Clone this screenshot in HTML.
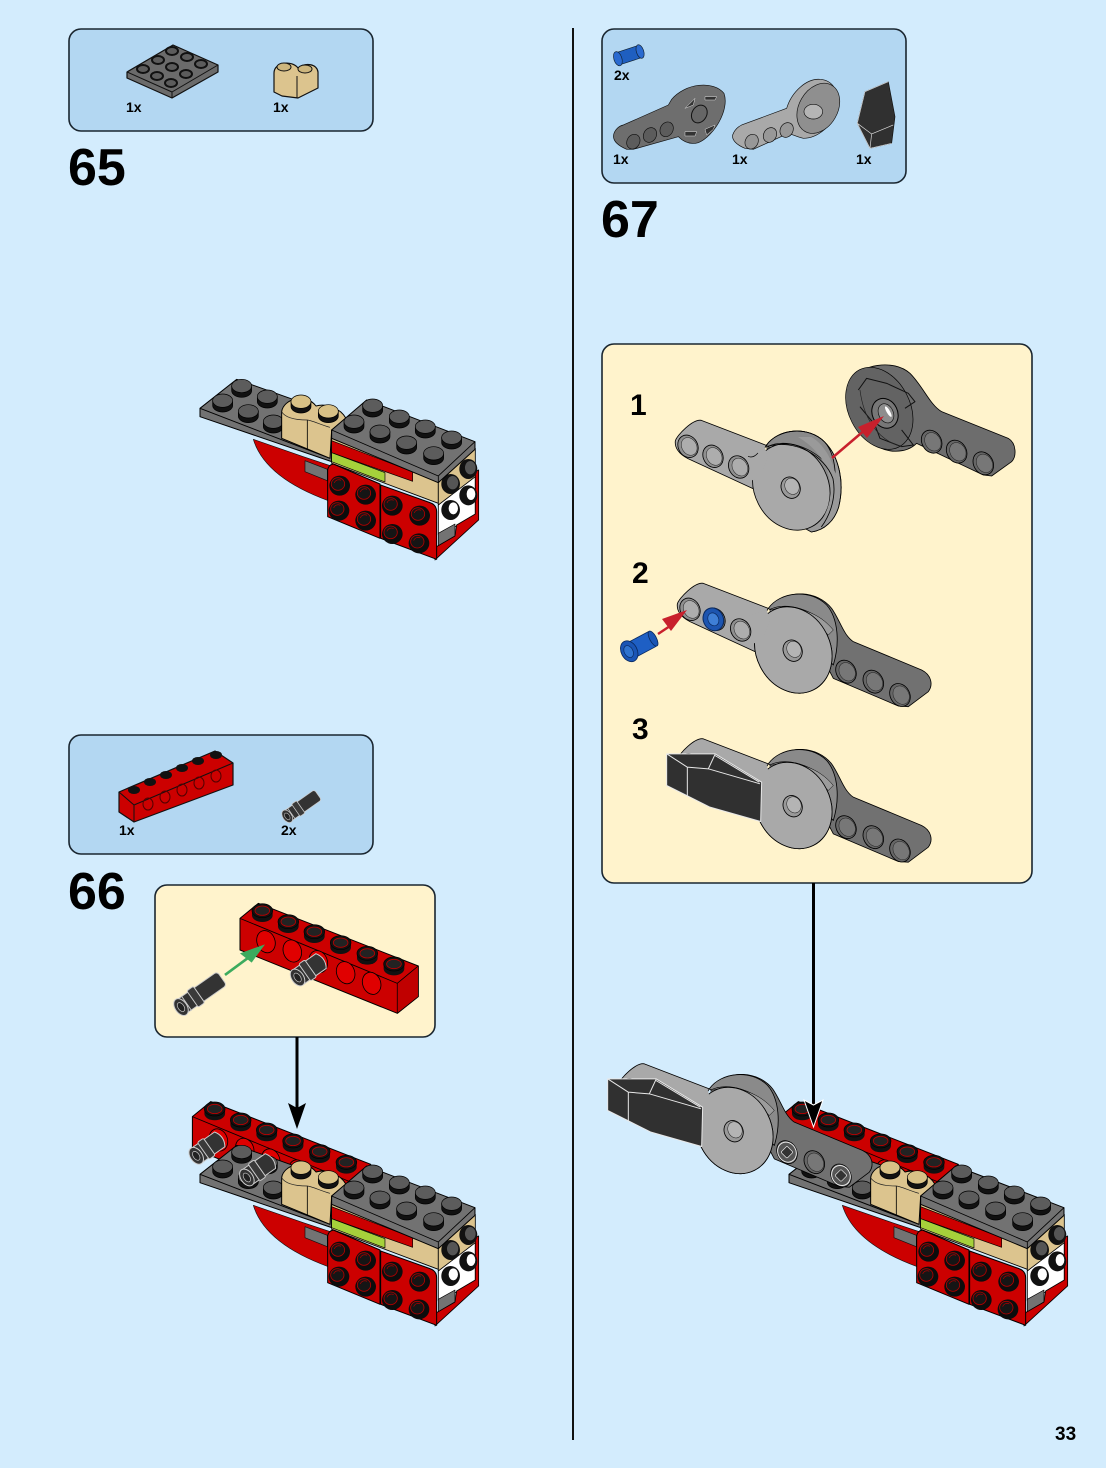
<!DOCTYPE html>
<html>
<head>
<meta charset="utf-8">
<style>
html,body{margin:0;padding:0;background:#d3ecfd;}
svg{display:block;}
text{font-family:"Liberation Sans",sans-serif;font-weight:bold;fill:#000;}
</style>
</head>
<body>
<svg width="1106" height="1468" viewBox="0 0 1106 1468" xmlns="http://www.w3.org/2000/svg">
<defs>
  <g id="gs"><path d="M-30,0 V14 A30,20 0 0 0 30,14 V0 Z" fill="#111" stroke="#000" stroke-width="2"/><ellipse rx="30" ry="20" fill="#5c5c5c" stroke="#000" stroke-width="2"/></g>
  <g id="ts"><path d="M-30,0 V14 A30,20 0 0 0 30,14 V0 Z" fill="#111" stroke="#000" stroke-width="2"/><ellipse rx="30" ry="20" fill="#d8c186" stroke="#000" stroke-width="2"/></g>
  <g id="rs"><ellipse cx="2" cy="2" rx="31" ry="30" fill="#0c0c0c"/><ellipse cx="-3" cy="-3" rx="20" ry="19" fill="#151515" stroke="#b00000" stroke-width="2.5"/><path d="M-14,-6 A14,14 0 0 1 6,-14" stroke="#b00000" stroke-width="2" fill="none"/></g>
  <g id="bs"><path d="M-31,0 V14 A31,20 0 0 0 31,14 V0 Z" fill="#111"/><ellipse rx="31" ry="21" fill="#111" stroke="#000" stroke-width="2"/><ellipse rx="22" ry="14" fill="#222" stroke="#b00" stroke-width="2.5"/></g>

  <!-- main model, crop 1 coords -->
  <g id="model" stroke-linejoin="round">
    <path d="M190,208 C215,290 300,350 415,392 L430,290 L340,260 Z" fill="#cc0000" stroke="#111" stroke-width="2"/>
    <path d="M345,272 L412,298 V332 L345,305 Z" fill="#737373" stroke="#111" stroke-width="2"/>
    <path d="M30,115 L140,28 L300,85 L470,145 L425,180 V275 L30,140 Z" fill="#727272" stroke="#000" stroke-width="3"/>
    <path d="M30,115 L420,265" stroke="#000" stroke-width="3" fill="none"/>
    <use href="#gs" x="98" y="92"/><use href="#gs" x="155" y="48"/><use href="#gs" x="175" y="124"/><use href="#gs" x="232" y="80"/><use href="#gs" x="250" y="155"/>
    <path d="M275,125 C280,88 345,65 378,108 C405,100 450,112 468,145 L425,180 L420,265 L355,238 L275,205 Z" fill="#dcc48e" stroke="#000" stroke-width="3"/>
    <path d="M352,150 V236" stroke="#000" stroke-width="2.5"/>
    <path d="M275,125 C290,150 335,150 352,150 C362,150 395,165 420,172" fill="none" stroke="#222" stroke-width="2"/>
    <use href="#ts" x="333" y="95"/><use href="#ts" x="415" y="124"/>
    <!-- right stack -->
    <path d="M425,205 L745,335 V400 L425,280 Z" fill="#dcc48e" stroke="#000" stroke-width="2.5"/>
    <path d="M425,212 L668,305 V334 L425,248 Z" fill="#cc0000" stroke="#000" stroke-width="2"/>
    <path d="M425,248 L585,308 V336 L425,275 Z" fill="#a6d13b" stroke="#000" stroke-width="2"/>
    <path d="M745,335 L856,235 V320 L745,410 Z" fill="#dcc48e" stroke="#000" stroke-width="2.5"/>
    <path d="M745,405 L856,320 V440 L745,495 Z" fill="#fff" stroke="#000" stroke-width="2.5"/>
    <path d="M745,490 L795,462 V498 L745,528 Z" fill="#737373" stroke="#000" stroke-width="2"/>
    <path d="M740,530 L795,498 L800,465 L856,432 V305 L866,300 V450 L735,570 Z" fill="#cc0000" stroke="#000" stroke-width="2.5"/>
    <path d="M413,300 Q415,285 430,282 L570,342 V505 L413,440 Z" fill="#cc0000" stroke="#000" stroke-width="3"/>
    <path d="M572,345 L720,398 Q740,405 740,425 V568 L572,505 Z" fill="#cc0000" stroke="#000" stroke-width="3"/>
    <use href="#rs" x="447" y="345"/><use href="#rs" x="525" y="372"/><use href="#rs" x="445" y="420"/><use href="#rs" x="525" y="450"/>
    <use href="#rs" x="605" y="405"/><use href="#rs" x="687" y="435"/><use href="#rs" x="605" y="490"/><use href="#rs" x="685" y="518"/>
    <g><ellipse cx="782" cy="342" rx="28" ry="30" fill="#111"/><ellipse cx="788" cy="338" rx="17" ry="20" fill="#555"/><ellipse cx="835" cy="297" rx="27" ry="30" fill="#111"/><ellipse cx="841" cy="293" rx="16" ry="20" fill="#555"/>
    <ellipse cx="782" cy="420" rx="28" ry="30" fill="#111"/><ellipse cx="790" cy="415" rx="14" ry="18" fill="#fff"/><ellipse cx="835" cy="376" rx="27" ry="30" fill="#111"/><ellipse cx="843" cy="372" rx="13" ry="18" fill="#fff"/></g>
    <!-- top plate -->
    <path d="M425,180 L530,90 L855,215 V238 L745,338 L425,205 Z" fill="#727272" stroke="#000" stroke-width="3"/>
    <path d="M425,180 L745,318 L855,215 M745,318 V338" fill="none" stroke="#000" stroke-width="2.5"/>
    <use href="#gs" x="548" y="107"/><use href="#gs" x="628" y="140"/><use href="#gs" x="706" y="170"/><use href="#gs" x="785" y="203"/>
    <use href="#gs" x="492" y="155"/><use href="#gs" x="570" y="185"/><use href="#gs" x="650" y="218"/><use href="#gs" x="731" y="250"/>
  </g>

  <!-- pins -->
  <g id="pin"><g transform="rotate(-35)">
    <rect x="-72" y="-25" width="150" height="50" rx="10" fill="#333" stroke="#ccc" stroke-width="3"/>
    <rect x="-30" y="-30" width="24" height="60" rx="5" fill="#3a3a3a" stroke="#ccc" stroke-width="3"/>
    <path d="M-52,-27 V27" stroke="#ccc" stroke-width="3" fill="none"/>
    <ellipse cx="-72" cy="0" rx="18" ry="28" fill="#333" stroke="#ccc" stroke-width="3"/>
    <ellipse cx="-72" cy="0" rx="9" ry="15" fill="#222" stroke="#ccc" stroke-width="2"/>
  </g></g>
  <g id="spin"><g transform="rotate(-35)">
    <path d="M-48,-27 H38 Q56,0 38,27 H-48 Z" fill="#333" stroke="#ccc" stroke-width="3"/>
    <rect x="-22" y="-31" width="22" height="62" rx="5" fill="#3a3a3a" stroke="#ccc" stroke-width="3"/>
    <ellipse cx="-48" cy="0" rx="18" ry="28" fill="#333" stroke="#ccc" stroke-width="3"/>
    <ellipse cx="-48" cy="0" rx="9" ry="15" fill="#222" stroke="#ccc" stroke-width="2"/>
  </g></g>

  <!-- red brick, crop 4 coords -->
  <g id="brick" stroke-linejoin="round">
    <path d="M270,85 L325,40 L805,228 V320 L742,370 L270,180 Z" fill="#cc0000" stroke="#000" stroke-width="3"/>
    <path d="M270,85 L742,280 L805,228 M742,280 V370" fill="none" stroke="#000" stroke-width="2.5"/>
    <path d="M742,280 L805,228 V320 L742,370 Z" fill="#c00000" stroke="#000" stroke-width="2"/>
    <use href="#bs" x="337" y="62"/><use href="#bs" x="415" y="95"/><use href="#bs" x="493" y="125"/><use href="#bs" x="572" y="158"/><use href="#bs" x="652" y="190"/><use href="#bs" x="732" y="222"/>
    <g fill="#e00000" stroke="#000" stroke-width="2.5">
      <ellipse cx="348" cy="155" rx="27" ry="34" transform="rotate(-20 348 155)"/>
      <ellipse cx="427" cy="183" rx="27" ry="34" transform="rotate(-20 427 183)"/>
      <ellipse cx="505" cy="215" rx="27" ry="34" transform="rotate(-20 505 215)"/>
      <ellipse cx="587" cy="248" rx="27" ry="34" transform="rotate(-20 587 248)"/>
      <ellipse cx="665" cy="280" rx="27" ry="34" transform="rotate(-20 665 280)"/>
    </g>
  </g>

  <!-- arm assembly pieces in crop 6 coords -->
  <g id="holes">
    <ellipse rx="29" ry="35" transform="rotate(-30)" fill="#8f8f8f" stroke="#000" stroke-width="2.5"/>
    <ellipse cx="3" cy="2" rx="22" ry="28" transform="rotate(-30)" fill="#adadad" stroke="#222" stroke-width="1.5"/>
  </g>
  <g id="dholes">
    <ellipse rx="29" ry="36" transform="rotate(-30)" fill="#666" stroke="#000" stroke-width="2.5"/>
    <ellipse cx="3" cy="2" rx="23" ry="29" transform="rotate(-30)" fill="#777" stroke="#222" stroke-width="1.5"/>
  </g>
  <g id="disc">
    <path d="M505,85 C540,35 630,25 680,75 C715,115 720,190 700,255 L640,190 Z" fill="#8a8a8a" stroke="#000" stroke-width="2.5"/>
    <path d="M510,88 C560,65 640,85 695,150" fill="none" stroke="#000" stroke-width="2"/>
    <path d="M232,72 C236,55 285,5 310,10 L505,85 L490,110 L465,215 L270,125 C240,110 230,90 232,72 Z" fill="#a9a9a9" stroke="#000" stroke-width="2.5"/>
    <ellipse cx="580" cy="210" rx="111" ry="134" transform="rotate(-27 580 210)" fill="#a9a9a9" stroke="#000" stroke-width="2.5"/>
    <path d="M425,115 L500,90 L510,120 L490,170 L465,190 L425,170 Z" fill="#a9a9a9"/>
    <path d="M450,118 Q465,125 480,108" fill="none" stroke="#000" stroke-width="2"/>
  </g>
  <g id="hub">
    <ellipse cx="578" cy="212" rx="28" ry="33" transform="rotate(-25 578 212)" fill="#999" stroke="#000" stroke-width="2.5"/>
    <ellipse cx="582" cy="208" rx="21" ry="25" transform="rotate(-25 582 208)" fill="#b4b4b4" stroke="#222" stroke-width="1.5"/>
  </g>
  <g id="lightarm" stroke-linejoin="round">
    <path d="M505,85 C540,35 630,25 680,75 C725,120 740,200 722,270 C710,310 680,340 640,345 L560,300 Z" fill="#9a9a9a" stroke="#000" stroke-width="2.5"/>
    <path d="M510,88 C590,65 680,115 705,185 C715,235 700,290 670,330" fill="none" stroke="#000" stroke-width="2"/>
    <use href="#disc"/>
    <path d="M640,60 C685,85 728,160 722,270 C710,310 680,340 640,345 C690,300 705,240 695,190 C685,130 650,90 600,60 Z" fill="#9a9a9a"/>
    <path d="M510,88 C590,65 680,115 705,185 C715,235 700,290 670,330 M505,85 C540,35 630,25 680,75 C725,120 740,200 722,270 C710,310 680,340 640,345" fill="none" stroke="#000" stroke-width="2.5"/>
    <use href="#holes" x="270" y="88"/><use href="#holes" x="345" y="118"/><use href="#holes" x="422" y="150"/>
    <use href="#hub"/>
  </g>
  <g id="assy" stroke-linejoin="round">
    <path d="M520,75 C565,28 650,30 695,85 C720,120 730,165 760,185 L965,270 C995,285 1000,315 985,335 L925,380 L895,378 L700,295 L640,180 Z" fill="#717171" stroke="#000" stroke-width="2.5"/>
    <use href="#dholes" x="738" y="275"/><use href="#dholes" x="820" y="305"/><use href="#dholes" x="900" y="345"/>
    <use href="#disc"/>
    <path d="M510,90 C590,70 660,100 700,150 L685,165 C640,120 580,95 510,105 Z" fill="#9c9c9c" stroke="#000" stroke-width="1.5"/>
    <ellipse cx="580" cy="210" rx="111" ry="134" transform="rotate(-27 580 210)" fill="#a9a9a9" stroke="#000" stroke-width="2.5"/>
    <path d="M425,115 L500,90 L510,120 L490,170 L465,190 L425,170 Z" fill="#a9a9a9"/>
    <use href="#holes" x="270" y="88"/><use href="#holes" x="345" y="118"/><use href="#holes" x="422" y="150"/>
    <use href="#hub"/>
  </g>
  <g id="wing" stroke-linejoin="round">
    <path d="M200,55 L345,55 L485,140 L482,258 L330,215 L260,180 L200,150 Z" fill="#303030" stroke="#e8e8e8" stroke-width="3"/>
    <path d="M200,55 L262,95 V180 M262,95 L325,100 L480,145 M345,57 L325,100 M345,60 L478,140" fill="none" stroke="#e8e8e8" stroke-width="3"/>
  </g>
  <g id="step3">
    <use href="#assy"/>
    <use href="#wing"/>
  </g>
</defs>

<rect width="1106" height="1468" fill="#d3ecfd"/>
<line x1="573" y1="28" x2="573" y2="1440" stroke="#111" stroke-width="2"/>

<!-- boxes -->
<g stroke="#1a2630" stroke-width="1.6">
  <rect x="69" y="29" width="304" height="102" rx="12" fill="#b3d7f2"/>
  <rect x="69" y="735" width="304" height="119" rx="12" fill="#b3d7f2"/>
  <rect x="602" y="29" width="304" height="154" rx="12" fill="#b3d7f2"/>
  <rect x="602" y="344" width="430" height="539" rx="12" fill="#fff3cc"/>
  <rect x="155" y="885" width="280" height="152" rx="12" fill="#fff3cc"/>
</g>

<text x="68" y="185" font-size="52">65</text>
<text x="68" y="909" font-size="52">66</text>
<text x="601" y="237" font-size="52">67</text>
<text x="1055" y="1440" font-size="19">33</text>
<text x="630" y="415" font-size="30">1</text>
<text x="632" y="583" font-size="30">2</text>
<text x="632" y="739" font-size="30">3</text>

<g>
  <text x="126" y="112" font-size="14">1x</text>
  <text x="273" y="112" font-size="14">1x</text>
  <text x="119" y="835" font-size="14">1x</text>
  <text x="281" y="835" font-size="14">2x</text>
  <text x="614" y="80" font-size="14">2x</text>
  <text x="613" y="164" font-size="14">1x</text>
  <text x="732" y="164" font-size="14">1x</text>
  <text x="856" y="164" font-size="14">1x</text>
</g>

<!-- 65 parts -->
<g stroke-linejoin="round">
  <path d="M127,72 L173,45 L218,65 V72 L172,98 L127,78 Z" fill="#6b6b6b" stroke="#111" stroke-width="1.2"/>
  <path d="M127,72 L172,92 L218,65 M172,92 V98" fill="none" stroke="#111" stroke-width="1"/>
  <g fill="#5c5c5c" stroke="#111" stroke-width="2">
    <ellipse cx="172" cy="51" rx="6" ry="4"/><ellipse cx="187" cy="57" rx="6" ry="4"/><ellipse cx="201" cy="64" rx="6" ry="4"/>
    <ellipse cx="158" cy="60" rx="6" ry="4"/><ellipse cx="172" cy="67" rx="6" ry="4"/><ellipse cx="186" cy="74" rx="6" ry="4"/>
    <ellipse cx="143" cy="69" rx="6" ry="4"/><ellipse cx="157" cy="76" rx="6" ry="4"/><ellipse cx="171" cy="83" rx="6" ry="4"/>
  </g>
  <path d="M274,73 C274,62 292,60 298,68 C306,62 317,64 318,72 L318,88 L298,98 L282,96 L274,92 Z" fill="#dcc48e" stroke="#111" stroke-width="1.2"/>
  <ellipse cx="284" cy="67" rx="7" ry="4" fill="#cdb67e" stroke="#111"/>
  <ellipse cx="305" cy="69" rx="7" ry="4" fill="#cdb67e" stroke="#111"/>
  <path d="M297,76 V98" stroke="#111" fill="none"/>
</g>

<!-- 66 parts -->
<g stroke-linejoin="round">
  <path d="M119,792 L215,751 L233,763 V785 L134,822 L119,812 Z" fill="#cc0000" stroke="#111" stroke-width="1.2"/>
  <path d="M119,792 L134,805 L233,763 M134,805 V822" fill="none" stroke="#111" stroke-width="1"/>
  <g fill="#111"><ellipse cx="134" cy="790" rx="6" ry="4"/><ellipse cx="150" cy="782" rx="6" ry="4"/><ellipse cx="166" cy="775" rx="6" ry="4"/><ellipse cx="182" cy="768" rx="6" ry="4"/><ellipse cx="198" cy="761" rx="6" ry="4"/><ellipse cx="216" cy="755" rx="6" ry="4"/></g>
  <g fill="none" stroke="#500" stroke-width="1"><ellipse cx="148" cy="804" rx="5" ry="6"/><ellipse cx="165" cy="797" rx="5" ry="6"/><ellipse cx="182" cy="790" rx="5" ry="6"/><ellipse cx="199" cy="783" rx="5" ry="6"/><ellipse cx="216" cy="776" rx="5" ry="6"/></g>
  <use href="#pin" transform="translate(302,806) scale(.25)"/>
</g>

<!-- 67 parts crop 5 coords -->
<g transform="translate(600,30) scale(.3333)" stroke-linejoin="round">
  <g transform="rotate(-18 85 76)">
    <rect x="52" y="57" width="70" height="38" rx="8" fill="#1f5fc0" stroke="#123" stroke-width="2"/>
    <ellipse cx="52" cy="76" rx="12" ry="22" fill="#2a6ad0" stroke="#123" stroke-width="2"/>
    <ellipse cx="122" cy="76" rx="11" ry="21" fill="#2a6ad0" stroke="#123" stroke-width="2"/>
  </g>

  <path d="M42,310 Q50,290 70,285 L205,225 L215,208 C255,160 340,150 372,190 C390,240 340,320 295,338 C270,345 250,335 235,320 L100,358 L80,358 C50,345 35,330 42,310 Z" fill="#6e6e6e" stroke="#111" stroke-width="2"/>
  <g fill="#5c5c5c" stroke="#111" stroke-width="2"><ellipse cx="100" cy="335" rx="19" ry="23" transform="rotate(30 100 335)"/><ellipse cx="150" cy="315" rx="19" ry="23" transform="rotate(30 150 315)"/><ellipse cx="200" cy="298" rx="19" ry="23" transform="rotate(30 200 298)"/></g>
  <ellipse cx="298" cy="252" rx="22" ry="28" transform="rotate(30 298 252)" fill="#666" stroke="#111" stroke-width="3"/>
  <path d="M255,235 L285,205 L280,225 Z M315,200 H350 L345,210 H315 Z M255,305 H290 L285,318 H255 Z M315,298 L345,285 L340,298 L320,315 Z" fill="#333" stroke="#ddd" stroke-width="1.5"/>

  <path d="M398,315 Q405,295 425,285 L560,235 C575,185 620,145 660,148 C700,150 720,190 715,230 C700,290 650,325 610,325 C590,320 580,315 565,310 L460,358 L435,355 C410,345 395,330 398,315 Z" fill="#a9a9a9" stroke="#111" stroke-width="2"/>
  <ellipse cx="655" cy="235" rx="58" ry="80" transform="rotate(30 655 235)" fill="#8f8f8f" stroke="#111" stroke-width="2"/>
  <ellipse cx="640" cy="245" rx="28" ry="22" fill="#b5b5b5" stroke="#111" stroke-width="2"/>
  <g fill="#989898" stroke="#111" stroke-width="2"><ellipse cx="455" cy="335" rx="19" ry="23" transform="rotate(30 455 335)"/><ellipse cx="510" cy="315" rx="19" ry="23" transform="rotate(30 510 315)"/><ellipse cx="560" cy="300" rx="19" ry="23" transform="rotate(30 560 300)"/></g>

  <path d="M795,185 L865,155 L885,260 L875,340 L810,355 L772,280 Z" fill="#303030" stroke="#111" stroke-width="2"/>
  <path d="M795,185 L865,155 M795,185 L772,280 L810,355 L875,340 M772,280 L815,312 L880,285 M815,312 L810,355" fill="none" stroke="#ddd" stroke-width="2"/>
</g>

<!-- step 1 pieces -->
<g transform="translate(598,417) scale(.3333)"><use href="#lightarm"/></g>
<g transform="translate(600,350) scale(.3333)" stroke-linejoin="round">
  <path d="M755,90 C780,45 880,25 930,70 C970,110 990,165 1025,185 L1225,265 C1250,280 1250,320 1235,335 L1175,378 L1150,375 L950,280 C920,310 860,315 810,275 C750,230 730,160 755,90 Z" fill="#6d6d6d" stroke="#000" stroke-width="2.5"/>
  <ellipse cx="838" cy="175" rx="92" ry="130" transform="rotate(-27 838 175)" fill="#636363" stroke="#000" stroke-width="2"/>
  <path d="M775,120 L800,85 L860,100 L925,130 L945,155 L915,175 M780,170 L825,225 L840,265 L905,290 L940,285 L905,240" fill="none" stroke="#111" stroke-width="3"/>
  <path d="M780,120 C790,200 830,270 905,290" fill="none" stroke="#222" stroke-width="2"/>
  <ellipse cx="855" cy="190" rx="38" ry="46" transform="rotate(-25 855 190)" fill="#777" stroke="#000" stroke-width="3"/>
  <ellipse cx="858" cy="190" rx="22" ry="30" transform="rotate(-25 858 190)" fill="#8d8d8d" stroke="#111" stroke-width="2"/>
  <ellipse cx="865" cy="185" rx="5" ry="18" transform="rotate(-30 865 185)" fill="#fff"/>
  <use href="#dholes" x="995" y="275"/><use href="#dholes" x="1070" y="305"/><use href="#dholes" x="1150" y="340"/>
</g>
<line x1="832" y1="458" x2="866" y2="429" stroke="#c8202c" stroke-width="2.5"/>
<path d="M884,416 L858,427 L867,438 Z" fill="#c8202c"/>

<!-- step 2 -->
<g transform="translate(600,580) scale(.3333)"><use href="#assy"/>
  <ellipse cx="340" cy="118" rx="30" ry="35" transform="rotate(-25 340 118)" fill="#1d55b0" stroke="#0a2a60" stroke-width="3"/>
  <ellipse cx="340" cy="118" rx="16" ry="20" transform="rotate(-25 340 118)" fill="#3f7fd6" stroke="#0a2a60" stroke-width="2"/>
</g>
<g transform="translate(600,580) scale(.3333)" stroke-linejoin="round">
  <g transform="rotate(-28 120 200)">
    <rect x="85" y="172" width="85" height="50" rx="8" fill="#1e5fc4" stroke="#0a2a60" stroke-width="2.5"/>
    <ellipse cx="166" cy="197" rx="10" ry="25" fill="#1a55b5" stroke="#0a2a60" stroke-width="2.5"/>
    <ellipse cx="85" cy="197" rx="24" ry="33" fill="#1a55b5" stroke="#0a2a60" stroke-width="2.5"/>
    <ellipse cx="83" cy="197" rx="13" ry="19" fill="#2f73cf" stroke="#0a2a60" stroke-width="2"/>
  </g>
</g>
<line x1="658" y1="634" x2="670" y2="626" stroke="#c8202c" stroke-width="2.5"/>
<path d="M687,610 L662,619 L671,631 Z" fill="#c8202c"/>

<!-- step 3 -->
<g transform="translate(600,735.5) scale(.3333)"><use href="#step3"/></g>

<!-- 66 callout -->
<g transform="translate(150,890) scale(.3333)">
  <use href="#brick"/>
  <use href="#pin" transform="translate(152,310)"/>
  <use href="#spin" transform="translate(482,235)"/>
  <line x1="225" y1="255" x2="295" y2="203" stroke="#3cab5e" stroke-width="8"/>
  <path d="M345,163 L270,190 L305,218 Z" fill="#3cab5e"/>
</g>

<!-- models -->
<g transform="translate(190,370) scale(.3333)"><use href="#model"/></g>

<g transform="translate(102.4,1088.3) scale(.3333)"><use href="#brick"/></g>
<g transform="translate(190,1136) scale(.3333)"><use href="#model"/></g>
<g transform="translate(150,890) scale(.3333)">
  <use href="#spin" transform="translate(178,770)"/>
  <use href="#spin" transform="translate(330,835)"/>
</g>

<g transform="translate(690,1088.3) scale(.3333)"><use href="#brick"/></g>
<g transform="translate(779,1136) scale(.3333)"><use href="#model"/></g>

<!-- final arm -->
<g transform="translate(541,1060.5) scale(.3333)"><use href="#step3"/>
  <g fill="#555" stroke="#e8e8e8" stroke-width="3">
    <ellipse cx="738" cy="275" rx="27" ry="31" transform="rotate(-30 738 275)"/>
    <ellipse cx="900" cy="345" rx="27" ry="31" transform="rotate(-30 900 345)"/>
  </g>
  <g fill="#333" stroke="#e8e8e8" stroke-width="2">
    <rect x="725" y="262" width="26" height="26" rx="4" transform="rotate(45 738 275)"/>
    <rect x="887" y="332" width="26" height="26" rx="4" transform="rotate(45 900 345)"/>
  </g>
</g>

<!-- arrows -->
<line x1="297" y1="1037" x2="297" y2="1110" stroke="#000" stroke-width="3"/>
<path d="M288,1103 L297,1108 L306,1103 L297,1129 Z" fill="#000"/>
<line x1="813.5" y1="883" x2="813.5" y2="1105" stroke="#000" stroke-width="3"/>
<path d="M804,1100 L813.5,1105 L823,1100 L813.5,1127 Z" fill="#000" stroke="#fff" stroke-width="1"/>
</svg>
</body>
</html>
